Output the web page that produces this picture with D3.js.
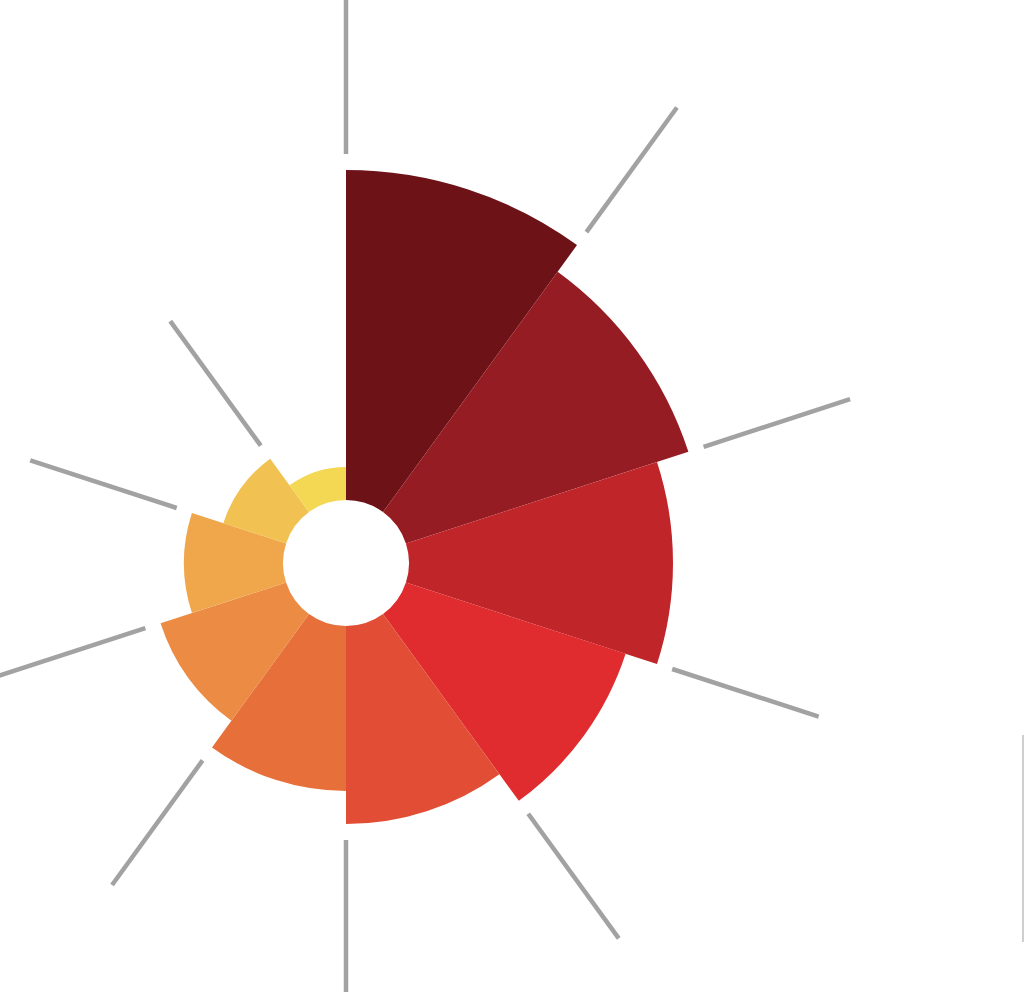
<!DOCTYPE html>
<html>
<head>
<meta charset="utf-8">
<script src="https://cdn.jsdelivr.net/npm/d3@7"></script>
<style>
html,body{margin:0;padding:0;background:#fff;overflow:hidden;}
svg{display:block;}
</style>
</head>
<body>
<svg id="chart" width="1024" height="992"></svg>
<script>
const categories = ["A","B","C","D","E","F","G","H","I","J"];
const values = [10, 9, 8, 7, 6, 5, 4, 3, 2, 1];
const colors = ["#6d1217","#951c22","#c0252a","#e02c2f","#e24e35","#e66f3a","#ec8c44","#f0a64b","#f1c151","#f4d853"];

const svg = d3.select("#chart");
const cx = 346, cy = 563;
const innerR = 63;
const g = svg.append("g").attr("transform", `translate(${cx},${cy})`);

const angle = d3.scaleBand().domain(categories).range([0, 2*Math.PI]);
const r = d3.scaleLinear().domain([0, 10]).range([innerR, 393]);

const arc = d3.arc()
  .innerRadius(innerR)
  .outerRadius(d => r(d.v))
  .startAngle(d => angle(d.c))
  .endAngle(d => angle(d.c) + angle.bandwidth());

const data = categories.map((c, i) => ({c, v: values[i], col: colors[i]}));

g.selectAll("path.sector").data(data).enter().append("path")
  .attr("class", "sector")
  .attr("d", arc)
  .attr("fill", d => d.col);

// radial separator lines
const gap = 16, len = 154;
const lines = categories.map((c, i) => {
  const prev = values[(i - 1 + values.length) % values.length];
  const start = r(Math.max(prev, values[i])) + gap;
  return {a: angle(c), start, end: start + len};
});
g.selectAll("line.spoke").data(lines).enter().append("line")
  .attr("class", "spoke")
  .attr("x1", d => Math.sin(d.a) * d.start)
  .attr("y1", d => -Math.cos(d.a) * d.start)
  .attr("x2", d => Math.sin(d.a) * d.end)
  .attr("y2", d => -Math.cos(d.a) * d.end)
  .attr("stroke", "#a2a2a2")
  .attr("stroke-width", 4.5);

// faint vertical line at right edge
svg.append("line")
  .attr("x1", 1023).attr("x2", 1023)
  .attr("y1", 735).attr("y2", 942)
  .attr("stroke", "#cfcfcf").attr("stroke-width", 2);
</script>
</body>
</html>
